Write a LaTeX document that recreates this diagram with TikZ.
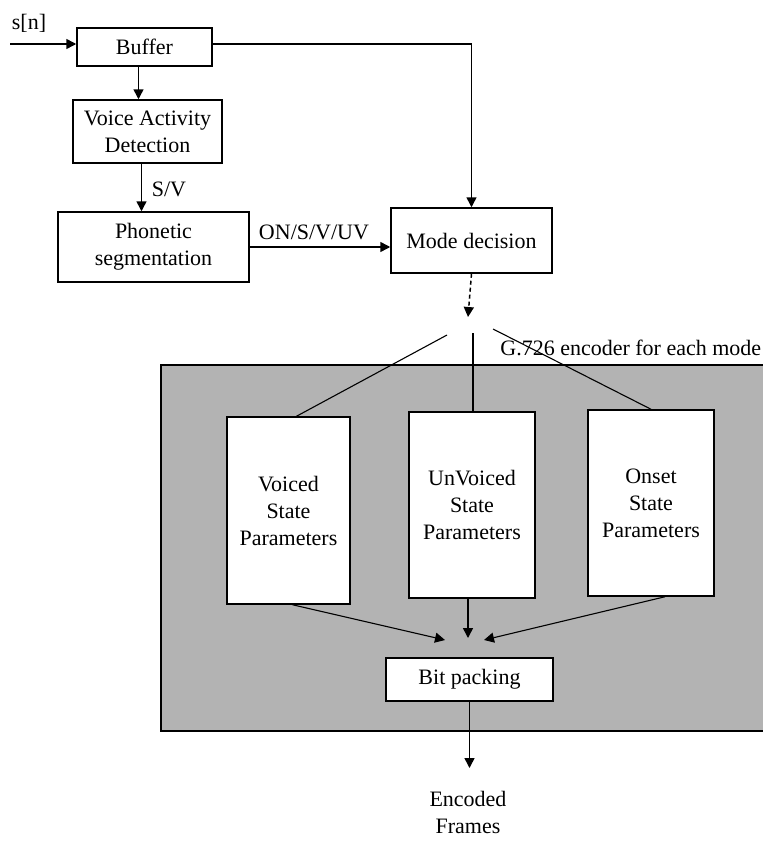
\documentclass[tikz,border=0pt]{standalone}
\usepackage{fontspec}
\setmainfont{Liberation Serif}
\usetikzlibrary{arrows.meta}
\definecolor{encgray}{RGB}{179,179,179}
\begin{document}
\begin{tikzpicture}[x=0.5pt,y=-0.5pt,
    >={Triangle[length=5pt,width=5pt]},
    every node/.style={font=\fontsize{11}{13.5}\selectfont,align=center},
    blk/.style={draw,line width=0.75pt,fill=white,inner sep=0pt},
    conn/.style={line width=0.75pt},
    branch/.style={line width=0.55pt}]
    \useasboundingbox (0,0) rectangle (763,841);
    % encoder area
    \draw[line width=0.75pt,fill=encgray] (161,365) rectangle (764,731);
    \node[anchor=base west,inner sep=0pt] (enclab) at (500,355) {G.726 encoder for each mode};
    % blocks
    \node[blk,minimum width=67.5pt,minimum height=19pt] (buffer) at (144.5,47) {Buffer};
    \node[blk,minimum width=74.5pt,minimum height=31.5pt] (vad) at (147.5,131.5) {Voice Activity\\Detection};
    \node[blk,minimum width=95.5pt,minimum height=35pt] (phon) at (153.5,247) {Phonetic\\segmentation};
    \node[blk,minimum width=80.5pt,minimum height=32.5pt] (mode) at (471.5,240.5) {Mode decision};
    \node[blk,minimum width=61.5pt,minimum height=93.5pt] (voiced) at (288.5,510.5) {Voiced\\State\\Parameters};
    \node[blk,minimum width=63pt,minimum height=93pt] (unvoiced) at (472,505) {UnVoiced\\State\\Parameters};
    \node[blk,minimum width=63pt,minimum height=93pt] (onset) at (651,503) {Onset\\State\\Parameters};
    \node[blk,minimum width=83.5pt,minimum height=21.5pt] (bitpack) at (469.5,679.5) {Bit packing};
    % labels
    \node (sn) at (29,23) {s[n]};
    \node (sv) at (169,189) {S/V};
    \node (seg) at (314,232) {ON/S/V/UV};
    \node (frames) at (468,812) {Encoded\\Frames};
    % free ends
    \coordinate (in) at (10,44);
    \coordinate (split) at (468,317);
    \coordinate (brL) at (447,335);
    \coordinate (brM) at (473,333);
    \coordinate (brR) at (493,329);
    \coordinate (inL) at (445,640);
    \coordinate (inM) at (468,638);
    \coordinate (inR) at (484,640);
    \coordinate (out) at (467,768);
    % connectors
    \draw[conn,->] (in) -- (in -| buffer.west);
    \draw[conn,->] (buffer.east |- in) -| (mode.north);
    \draw[conn,->] ([xshift=-3pt]buffer.south) -- ([xshift=-3pt]buffer.south |- vad.north);
    \draw[conn,->] ([xshift=-3pt]vad.south) -- ([xshift=-3pt]vad.south |- phon.north);
    \draw[conn,->] (phon.east) -- (phon.east -| mode.west);
    \draw[conn,->,dash pattern=on 2pt off 1.5pt] (mode.south) -- (split);
    \draw[branch] (brL) -- ([xshift=4pt]voiced.north);
    \draw[branch] (brM) -- (brM |- unvoiced.north);
    \draw[branch] (brR) -- (onset.north);
    \draw[branch,->] ([xshift=2pt]voiced.south) -- (inL);
    \draw[conn,->] (inM |- unvoiced.south) -- (inM);
    \draw[branch,->] ([xshift=7pt]onset.south) -- (inR);
    \draw[conn,->] (bitpack.south) -- (bitpack.south |- out);
\end{tikzpicture}
\end{document}
